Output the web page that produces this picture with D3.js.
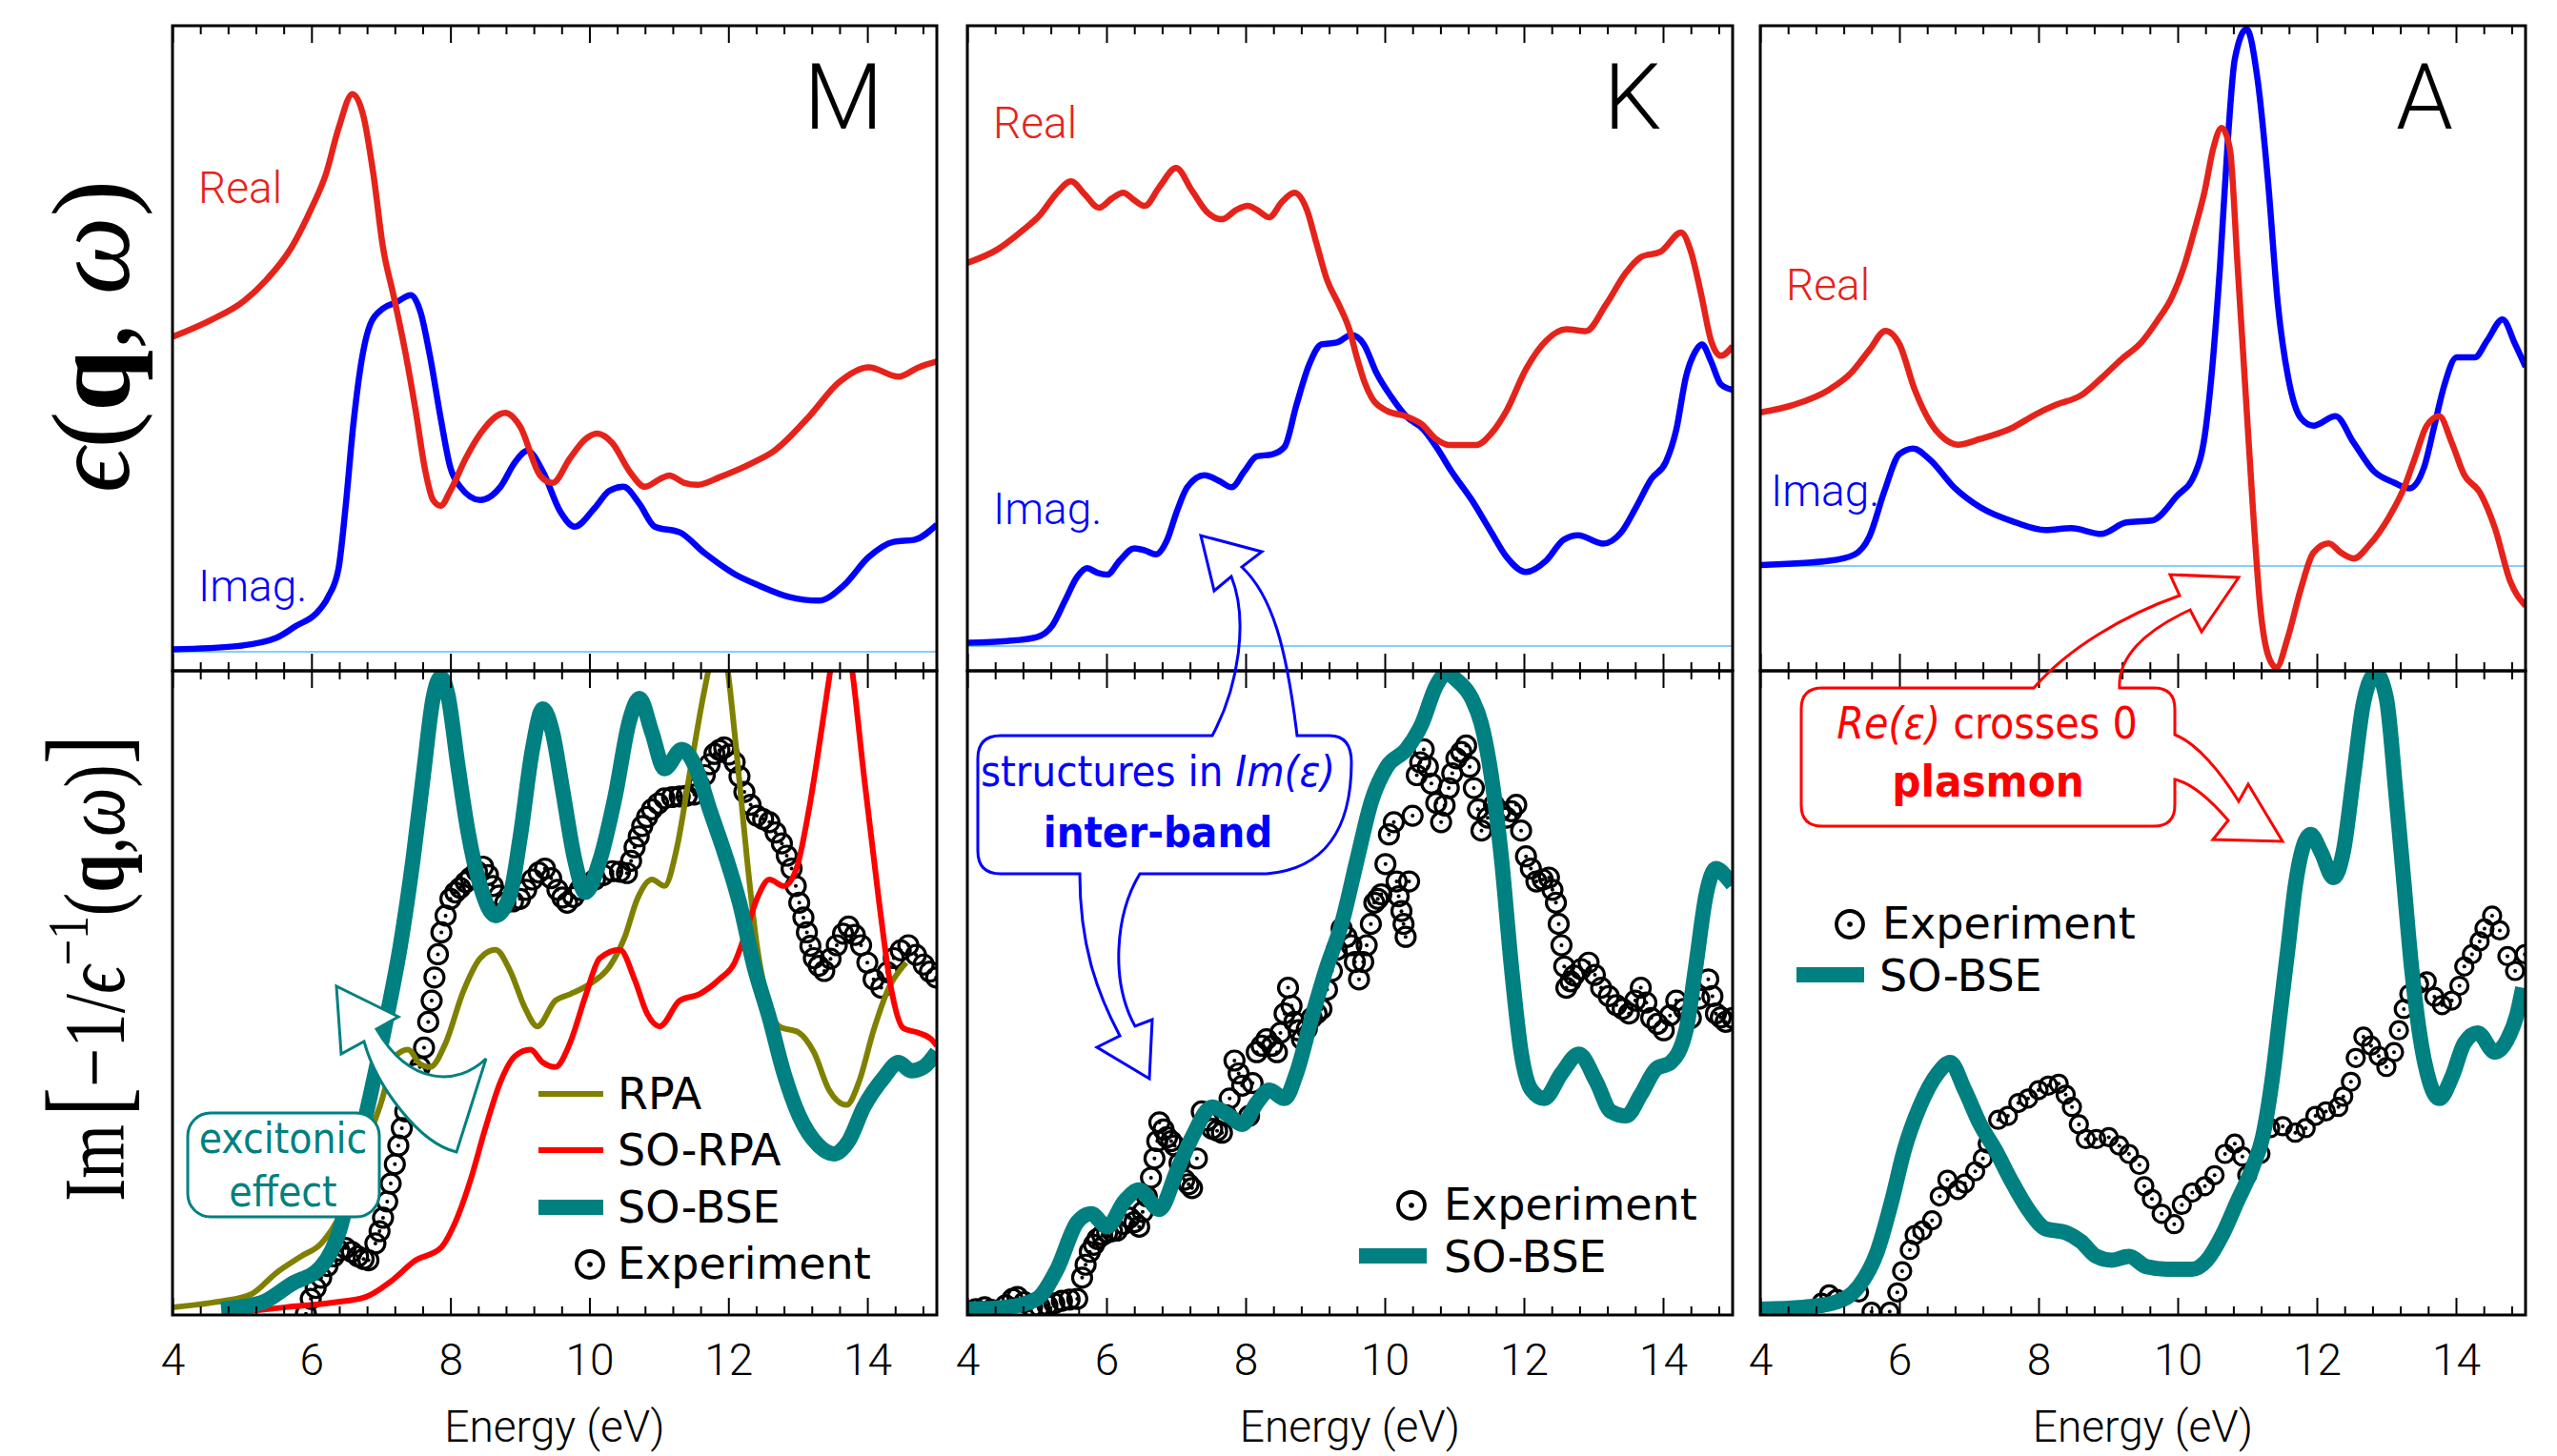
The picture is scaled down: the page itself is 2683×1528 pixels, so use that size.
<!DOCTYPE html>
<html>
<head>
<meta charset="utf-8">
<script src="https://cdn.jsdelivr.net/npm/d3@7.9.0/dist/d3.min.js"></script>
<style>
  body { margin: 0; background: #fff; }
  .tick text { font-family: Roboto, "Liberation Sans", sans-serif; font-weight: 300; }
</style>
</head>
<body>
<svg id="chart" width="2683" height="1528"></svg>
<script>
const energyTicks = [4, 6, 8, 10, 12, 14];

// ---- upper panels: dielectric function, [energy, value]
const M_real = [[4.0,16.6],[4.56,17.5],[5.03,18.5],[5.35,19.6],[5.71,21.3],[5.99,23.3],[6.21,25.2],[6.39,27.6],[6.59,29.4],[6.75,28.2],[6.89,25.2],[7.03,21.3],[7.18,18.8],[7.35,15.8],[7.5,12.7],[7.64,9.5],[7.75,8.0],[7.86,7.7],[8.0,8.5],[8.22,10.2],[8.43,11.5],[8.79,12.6],[9.0,11.9],[9.29,9.3],[9.47,8.9],[9.72,10.2],[9.94,11.2],[10.11,11.5],[10.33,11.0],[10.58,9.5],[10.8,8.7],[11.01,9.1],[11.15,9.3],[11.37,8.9],[11.55,8.8],[11.87,9.2],[12.37,10.0],[12.66,10.6],[13.16,12.4],[13.59,14.2],[14.02,15.0],[14.45,14.5],[14.74,15.0],[15.0,15.3]];
const M_imag = [[4.0,0.13],[4.92,0.3],[5.49,0.73],[5.78,1.37],[6.06,2.0],[6.24,2.9],[6.39,4.4],[6.49,7.6],[6.6,11.9],[6.71,15.1],[6.85,17.3],[7.03,18.1],[7.21,18.4],[7.43,18.8],[7.57,17.9],[7.71,15.5],[7.86,12.3],[8.0,9.7],[8.14,8.7],[8.43,8.0],[8.72,8.7],[8.93,10.0],[9.11,10.6],[9.33,9.5],[9.58,7.4],[9.79,6.6],[10.08,7.6],[10.29,8.5],[10.49,8.7],[10.72,7.8],[10.94,6.6],[11.3,6.3],[11.66,5.2],[12.09,4.1],[12.44,3.5],[12.87,2.9],[13.3,2.7],[13.66,3.5],[14.02,5.0],[14.38,5.8],[14.67,5.9],[15.0,6.7]];

const K_real = [[4.0,20.2],[4.43,20.9],[4.79,21.9],[5.04,22.7],[5.29,23.9],[5.49,24.5],[5.69,23.8],[5.89,23.1],[6.08,23.6],[6.24,23.9],[6.4,23.5],[6.55,23.2],[6.76,24.2],[7.0,25.2],[7.23,24.0],[7.44,22.9],[7.66,22.5],[7.87,23.0],[8.03,23.2],[8.16,23.0],[8.34,22.6],[8.52,23.4],[8.7,23.9],[8.88,23.0],[9.02,21.2],[9.17,19.3],[9.34,18.0],[9.49,16.7],[9.6,15.2],[9.71,13.9],[9.81,13.1],[10.03,12.4],[10.31,12.1],[10.53,11.7],[10.74,10.9],[10.92,10.6],[11.32,10.6],[11.53,11.2],[11.75,12.4],[12.03,14.6],[12.32,16.1],[12.61,16.7],[12.89,16.6],[13.18,18.0],[13.47,19.7],[13.68,20.5],[13.97,20.8],[14.26,21.8],[14.4,20.8],[14.55,18.5],[14.69,16.1],[14.83,15.3],[15.0,15.8]];
const K_imag = [[4.0,0.17],[4.57,0.26],[5.0,0.47],[5.22,1.07],[5.4,2.36],[5.58,3.65],[5.72,4.1],[5.87,3.86],[6.01,3.76],[6.19,4.5],[6.4,5.15],[6.55,5.04],[6.71,4.83],[6.87,5.58],[7.01,7.08],[7.16,8.37],[7.41,9.0],[7.62,8.7],[7.8,8.37],[7.98,9.2],[8.16,10.0],[8.38,10.1],[8.56,10.5],[8.73,12.7],[8.91,14.8],[9.09,15.9],[9.31,16.0],[9.52,16.4],[9.7,15.9],[9.88,14.4],[10.1,13.1],[10.31,12.1],[10.56,11.4],[10.74,10.5],[10.96,9.2],[11.25,7.7],[11.53,6.0],[11.75,4.7],[12.03,3.9],[12.32,4.5],[12.57,5.6],[12.78,5.84],[13.14,5.4],[13.4,6.0],[13.61,7.3],[13.83,8.8],[14.04,9.7],[14.19,11.4],[14.33,14.2],[14.46,15.5],[14.56,15.9],[14.69,15.0],[14.83,13.8],[15.0,13.5]];

const A_real = [[4.0,8.1],[4.48,8.5],[4.99,9.3],[5.31,10.2],[5.57,11.4],[5.8,12.4],[6.0,11.7],[6.22,9.3],[6.44,7.6],[6.65,6.7],[6.84,6.4],[7.16,6.7],[7.6,7.25],[7.96,8.0],[8.25,8.5],[8.61,9.0],[8.9,9.9],[9.19,10.9],[9.48,11.8],[9.7,12.9],[9.92,14.2],[10.1,15.9],[10.24,17.7],[10.39,19.8],[10.51,22.0],[10.63,23.1],[10.75,22.0],[10.86,15.9],[10.97,9.5],[11.08,3.1],[11.19,-2.3],[11.3,-4.7],[11.42,-5.35],[11.58,-3.8],[11.77,-1.2],[11.95,0.7],[12.17,1.2],[12.35,0.7],[12.53,0.4],[12.75,1.1],[13.04,2.6],[13.25,4.1],[13.4,5.6],[13.58,7.4],[13.76,7.9],[13.94,6.5],[14.12,4.8],[14.34,3.9],[14.56,2.0],[14.78,-0.8],[15.0,-2.1]];
const A_imag = [[4.0,0.06],[4.99,0.28],[5.35,0.6],[5.57,1.57],[5.78,3.9],[6.0,5.9],[6.2,6.2],[6.44,5.6],[6.8,4.1],[7.16,3.1],[7.67,2.3],[8.1,1.9],[8.47,2.0],[8.9,1.7],[9.26,2.3],[9.63,2.4],[9.99,3.7],[10.24,4.8],[10.39,6.9],[10.5,10.6],[10.61,15.9],[10.72,22.4],[10.82,26.7],[10.99,28.3],[11.15,25.6],[11.3,20.2],[11.44,13.8],[11.59,9.9],[11.77,7.8],[11.95,7.4],[12.27,7.9],[12.53,6.5],[12.82,5.0],[13.11,4.4],[13.33,4.1],[13.54,5.2],[13.69,7.4],[13.83,9.5],[14.01,11.0],[14.27,11.0],[14.45,11.9],[14.67,13.0],[14.85,11.7],[15.0,10.5]];

// ---- lower panels: loss function (arb. units 0..100)
const M_rpa = [[4.0,1.2],[4.56,1.9],[5.13,3.2],[5.49,6.5],[5.85,9.1],[6.14,11.1],[6.42,15.7],[6.71,24.3],[7.0,32.9],[7.21,40.2],[7.39,41.2],[7.57,38.9],[7.71,38.5],[7.93,42.2],[8.18,50.1],[8.43,55.4],[8.65,56.7],[8.86,53.4],[9.08,47.5],[9.25,44.8],[9.51,48.8],[9.72,49.8],[10.01,51.4],[10.29,54.1],[10.51,58.7],[10.69,64.6],[10.9,67.6],[11.08,66.6],[11.26,72.6],[11.44,83.8],[11.62,95.0],[11.73,101],[11.86,108],[11.98,101],[12.12,87.1],[12.27,70.6],[12.41,57.4],[12.55,49.4],[12.73,44.8],[13.02,43.8],[13.23,40.8],[13.45,34.9],[13.7,32.6],[13.88,36.2],[14.09,44.2],[14.31,50.8],[14.56,54.7]];
const M_sorpa = [[4.75,0.2],[5.63,1.2],[6.28,1.9],[6.78,2.8],[7.14,5.2],[7.5,8.5],[7.86,10.4],[8.07,14.4],[8.29,21.0],[8.5,28.9],[8.72,36.2],[8.93,40.2],[9.15,41.2],[9.33,39.2],[9.51,38.5],[9.72,42.2],[9.94,49.4],[10.15,55.4],[10.44,56.7],[10.65,52.1],[10.83,46.8],[11.01,44.8],[11.3,48.8],[11.58,49.8],[11.87,52.1],[12.09,54.7],[12.23,58.7],[12.41,64.6],[12.59,67.6],[12.8,66.6],[12.98,69.3],[13.16,78.5],[13.38,93.7],[13.48,101],[13.62,110],[13.77,101],[13.95,83.8],[14.17,64.0],[14.34,50.8],[14.52,44.5],[14.74,43.8],[14.92,42.8],[15.0,41.8]];
const M_bse = [[4.7,0.9],[5.28,1.9],[5.71,4.8],[6.14,7.5],[6.42,13.7],[6.64,24.3],[6.85,34.2],[7.07,45.5],[7.28,57.4],[7.46,70.6],[7.61,83.8],[7.75,95.7],[7.86,99.0],[7.96,96.4],[8.11,85.1],[8.25,75.2],[8.43,66.6],[8.65,62.0],[8.86,65.3],[9.0,73.9],[9.18,87.8],[9.33,94.1],[9.47,90.4],[9.61,81.8],[9.79,70.6],[9.94,65.6],[10.15,70.6],[10.37,80.5],[10.58,92.4],[10.72,95.7],[10.9,90.4],[11.08,84.8],[11.33,87.8],[11.55,84.5],[11.73,78.5],[11.94,71.9],[12.16,64.0],[12.37,54.1],[12.59,46.1],[12.8,37.5],[13.02,30.9],[13.3,26.3],[13.52,25.0],[13.73,27.0],[13.95,32.3],[14.24,36.9],[14.45,39.2],[14.63,37.9],[14.81,38.5],[15.0,40.8]];
const M_exp = [[5.92,0.2],[5.99,2.5],[6.06,4.2],[6.14,5.8],[6.23,7.6],[6.32,9.1],[6.4,10.0],[6.49,10.4],[6.58,9.8],[6.67,9.1],[6.75,8.7],[6.82,8.5],[6.92,11.1],[6.98,13.0],[7.03,15.1],[7.09,17.6],[7.14,20.4],[7.2,23.4],[7.25,26.3],[7.3,29.0],[7.35,31.6],[7.41,34.0],[7.46,36.2],[7.51,37.5],[7.56,38.5],[7.62,41.5],[7.68,45.5],[7.73,48.8],[7.77,52.4],[7.82,56.0],[7.87,59.4],[7.93,62.0],[8.0,64.6],[8.07,65.6],[8.14,66.3],[8.22,67.2],[8.29,67.9],[8.38,68.9],[8.47,69.6],[8.54,68.3],[8.61,66.6],[8.7,65.1],[8.79,64.0],[8.9,64.2],[9.0,64.6],[9.09,66.0],[9.18,67.6],[9.27,68.7],[9.36,69.3],[9.45,67.8],[9.54,66.0],[9.61,64.8],[9.68,64.0],[9.77,64.9],[9.86,66.0],[9.97,66.9],[10.08,67.6],[10.2,68.3],[10.33,68.9],[10.44,68.8],[10.54,68.6],[10.6,70.5],[10.65,72.6],[10.71,74.3],[10.76,75.9],[10.83,77.3],[10.9,78.5],[10.99,79.4],[11.08,80.2],[11.19,80.4],[11.3,80.5],[11.4,80.6],[11.51,80.8],[11.58,82.3],[11.66,83.8],[11.73,85.5],[11.8,87.1],[11.87,87.7],[11.94,88.1],[12.01,87.0],[12.09,85.8],[12.16,83.6],[12.23,81.2],[12.32,79.2],[12.41,77.5],[12.5,77.0],[12.59,76.5],[12.68,74.9],[12.77,73.2],[12.84,71.3],[12.91,69.3],[12.97,66.6],[13.02,64.0],[13.08,61.7],[13.13,59.4],[13.18,57.3],[13.23,55.4],[13.3,54.2],[13.38,53.4],[13.47,55.3],[13.56,57.4],[13.65,59.2],[13.73,60.3],[13.82,59.0],[13.91,57.4],[14.0,54.7],[14.09,52.1],[14.2,50.8],[14.29,53.2],[14.38,55.4],[14.48,56.6],[14.59,57.4],[14.7,55.9],[14.81,54.4],[14.9,53.3],[14.99,52.4]];

const K_bse = [[4.0,0.9],[4.57,1.2],[5.0,2.5],[5.29,7.1],[5.58,14.4],[5.78,15.7],[6.01,13.7],[6.26,17.7],[6.47,19.4],[6.76,16.4],[7.01,22.3],[7.23,27.6],[7.52,32.3],[7.77,30.9],[7.95,29.6],[8.16,32.9],[8.34,34.9],[8.56,33.6],[8.73,37.5],[8.95,46.1],[9.17,54.1],[9.38,60.7],[9.6,70.6],[9.81,79.8],[10.03,85.1],[10.31,87.8],[10.53,91.7],[10.74,97.7],[10.89,99.6],[11.03,98.6],[11.25,95.7],[11.39,91.7],[11.53,83.8],[11.68,70.6],[11.82,54.1],[11.96,40.8],[12.11,34.9],[12.29,33.6],[12.54,37.5],[12.79,40.5],[13.04,36.2],[13.25,31.6],[13.47,30.9],[13.68,34.2],[13.9,38.2],[14.11,39.2],[14.33,44.2],[14.47,54.1],[14.62,65.3],[14.76,69.3],[14.94,67.6],[15.0,66.8]];
const K_exp = [[4.0,0.5],[4.12,0.9],[4.25,1.2],[4.34,0.8],[4.43,0.5],[4.55,1.5],[4.65,2.5],[4.72,2.8],[4.82,2.0],[4.93,1.2],[5.04,1.3],[5.15,1.5],[5.25,1.8],[5.36,2.2],[5.47,2.4],[5.58,2.5],[5.65,5.8],[5.7,7.8],[5.76,9.8],[5.82,10.9],[5.87,11.8],[5.94,12.4],[6.01,12.8],[6.08,13.0],[6.15,13.1],[6.24,14.1],[6.33,15.1],[6.4,14.4],[6.47,13.7],[6.52,16.0],[6.58,18.4],[6.64,21.3],[6.69,24.3],[6.73,27.0],[6.76,29.9],[6.82,28.8],[6.87,27.6],[6.93,27.0],[6.98,26.3],[7.05,23.6],[7.12,21.0],[7.18,20.3],[7.23,19.7],[7.3,24.3],[7.37,31.6],[7.45,30.2],[7.52,28.9],[7.59,28.6],[7.66,28.3],[7.72,31.0],[7.77,33.6],[7.84,39.5],[7.9,37.5],[7.95,35.6],[8.05,30.9],[8.1,36.0],[8.16,40.8],[8.23,41.8],[8.3,42.8],[8.38,41.8],[8.45,40.8],[8.5,43.8],[8.56,46.8],[8.61,50.8],[8.66,48.0],[8.7,45.5],[8.76,44.2],[8.81,42.8],[8.88,44.4],[8.95,46.1],[9.02,46.8],[9.09,47.5],[9.17,50.5],[9.24,53.4],[9.31,56.7],[9.38,60.0],[9.45,58.7],[9.52,57.4],[9.57,54.8],[9.63,52.1],[9.69,54.8],[9.74,57.4],[9.8,60.7],[9.85,64.0],[9.9,64.6],[9.95,65.3],[10.01,70.0],[10.06,74.6],[10.13,76.5],[10.17,67.3],[10.2,65.0],[10.24,62.7],[10.27,60.7],[10.3,58.7],[10.35,67.3],[10.4,77.5],[10.46,83.8],[10.51,85.8],[10.56,87.8],[10.62,85.1],[10.67,82.5],[10.74,79.5],[10.81,76.5],[10.86,79.1],[10.92,81.8],[10.97,84.1],[11.03,86.4],[11.1,87.4],[11.17,88.4],[11.22,85.1],[11.28,81.8],[11.34,78.5],[11.39,75.2],[11.48,77.2],[11.57,79.2],[11.66,78.2],[11.75,77.2],[11.82,78.2],[11.89,79.2],[11.96,75.2],[12.03,71.2],[12.1,69.3],[12.18,67.3],[12.27,67.6],[12.36,67.9],[12.41,66.0],[12.46,64.0],[12.5,60.7],[12.54,57.4],[12.58,54.1],[12.61,50.8],[12.67,51.8],[12.72,52.7],[12.82,53.7],[12.93,54.7],[13.02,52.8],[13.11,50.8],[13.22,49.5],[13.33,48.1],[13.42,47.5],[13.51,46.8],[13.6,48.8],[13.68,50.8],[13.76,48.5],[13.83,46.1],[13.92,45.2],[14.01,44.2],[14.1,46.5],[14.19,48.8],[14.3,47.5],[14.4,46.1],[14.52,49.1],[14.65,52.1],[14.71,49.5],[14.76,46.8],[14.83,46.2],[14.9,45.5],[15.0,46.1]];

const A_bse = [[4.0,0.9],[4.62,1.2],[5.06,1.9],[5.42,4.5],[5.68,9.8],[5.89,17.7],[6.07,25.6],[6.29,32.3],[6.55,37.5],[6.73,39.2],[6.94,34.9],[7.16,29.6],[7.38,25.6],[7.6,21.0],[7.85,16.4],[8.1,13.4],[8.39,12.8],[8.61,11.4],[8.83,9.1],[9.05,8.5],[9.3,9.1],[9.55,7.5],[9.84,7.1],[10.21,7.1],[10.42,8.5],[10.64,12.4],[10.86,17.7],[11.08,23.0],[11.22,27.6],[11.37,37.5],[11.48,47.5],[11.59,57.4],[11.69,66.6],[11.8,72.6],[11.91,74.6],[12.06,71.9],[12.24,67.9],[12.38,71.9],[12.53,83.8],[12.67,95.0],[12.85,99.6],[13.0,95.7],[13.14,80.5],[13.25,67.3],[13.36,54.1],[13.47,44.2],[13.62,36.2],[13.76,33.6],[13.94,36.9],[14.12,42.2],[14.31,43.8],[14.56,40.8],[14.74,42.8],[14.88,46.8],[14.96,50.8]];
const A_exp = [[4.88,1.9],[4.99,3.2],[5.1,2.5],[5.42,3.5],[5.6,0.5],[5.86,0.5],[5.97,3.5],[6.04,6.8],[6.15,10.1],[6.22,12.4],[6.33,13.1],[6.47,14.7],[6.58,18.4],[6.69,21.0],[6.84,19.4],[6.94,20.4],[7.09,22.3],[7.2,24.3],[7.27,26.6],[7.42,30.3],[7.56,30.9],[7.71,32.9],[7.85,33.6],[8.0,34.9],[8.14,35.6],[8.29,35.9],[8.39,34.2],[8.48,32.3],[8.58,29.6],[8.68,27.3],[8.83,27.3],[9.01,27.6],[9.16,26.3],[9.3,25.0],[9.45,23.3],[9.52,20.0],[9.63,18.0],[9.77,15.7],[9.95,14.1],[10.06,17.1],[10.21,19.0],[10.39,20.0],[10.53,21.7],[10.68,25.0],[10.82,26.6],[10.93,24.6],[11.0,21.7],[11.19,25.0],[11.33,29.0],[11.51,29.3],[11.69,28.3],[11.84,29.0],[11.98,30.9],[12.13,31.6],[12.31,32.3],[12.38,33.9],[12.49,36.2],[12.56,39.9],[12.67,43.2],[12.78,41.8],[12.89,40.2],[13.0,38.5],[13.11,40.8],[13.18,44.2],[13.25,47.5],[13.33,49.8],[13.47,51.4],[13.58,51.8],[13.69,49.4],[13.8,48.1],[13.94,48.8],[14.05,51.1],[14.12,54.1],[14.23,56.0],[14.34,58.0],[14.41,60.0],[14.52,62.0],[14.63,59.7],[14.74,55.7],[14.85,53.4],[14.99,56.0]];

// ---- layout
const W = 2683, H = 1528;
const upTop = 27, mid = 704, lowBottom = 1380;
const C = { real: '#e6231a', imag: '#0000ff', zero: '#87cefa', rpa: '#808000', sorpa: '#ff0000', bse: '#008080' };
const sans = 'Roboto, "Liberation Sans", sans-serif';
const dv = '"DejaVu Sans", sans-serif';
const dvc = '"DejaVu Sans Condensed", "DejaVu Sans", sans-serif';

const svg = d3.select('#chart');
svg.append('rect').attr('width', W).attr('height', H).attr('fill', '#fff');
const defs = svg.append('defs');

const minorTicks = d3.range(4, 15, 0.4).filter(v => Math.abs(v / 2 - Math.round(v / 2)) > 0.02);

function clip(id, x0, y0, w, h) {
  defs.append('clipPath').attr('id', id).append('rect')
    .attr('x', x0).attr('y', y0).attr('width', w).attr('height', h);
  return `url(#${id})`;
}

function tickRow(x, y, axisFn, size, values, labels) {
  const g = svg.append('g').attr('transform', `translate(0,${y})`)
    .call(axisFn(x).tickValues(values).tickSize(size).tickPadding(30)
      .tickFormat(labels ? d3.format('d') : ''));
  g.select('.domain').remove();
  g.selectAll('.tick line').attr('stroke', '#000').attr('stroke-width', 2);
  g.selectAll('.tick text').attr('font-size', 46).attr('fill', '#000');
}

function expMarks(g, data, x, y, r) {
  const pts = g.selectAll(null).data(data).enter().append('g')
    .attr('transform', d => `translate(${x(d[0])},${y(d[1])})`);
  pts.append('circle').attr('r', r).attr('fill', 'none').attr('stroke', '#000').attr('stroke-width', 3.2);
  pts.append('circle').attr('r', 2).attr('fill', '#000');
}

function drawPanel(p) {
  const x = d3.scaleLinear().domain([4, 15]).range([p.left, p.right]);
  const yu = d3.scaleLinear().domain(p.upDomain).range([mid, upTop]);
  const yl = d3.scaleLinear().domain([0, 100]).range([lowBottom, mid]);
  const w = p.right - p.left;

  const up = svg.append('g').attr('clip-path', clip('cu' + p.name, p.left, upTop, w, mid - upTop));
  up.append('line').attr('x1', p.left).attr('x2', p.right).attr('y1', yu(0)).attr('y2', yu(0))
    .attr('stroke', C.zero).attr('stroke-width', 2);
  const lineU = d3.line().x(d => x(d[0])).y(d => yu(d[1])).curve(d3.curveMonotoneX);
  up.append('path').datum(p.imag).attr('d', lineU).attr('fill', 'none').attr('stroke', C.imag).attr('stroke-width', 6.5);
  up.append('path').datum(p.real).attr('d', lineU).attr('fill', 'none').attr('stroke', C.real).attr('stroke-width', 6.5);

  const low = svg.append('g').attr('clip-path', clip('cl' + p.name, p.left, mid, w, lowBottom - mid));
  const lineL = d3.line().x(d => x(d[0])).y(d => yl(d[1])).curve(d3.curveMonotoneX);
  expMarks(low, p.exp, x, yl, p.expR);
  p.lines.forEach(s => {
    low.append('path').datum(s.data).attr('d', lineL).attr('fill', 'none')
      .attr('stroke', s.color).attr('stroke-width', s.width).attr('stroke-linejoin', 'round');
  });

  // ticks
  tickRow(x, upTop, d3.axisTop, -18, energyTicks, false);
  tickRow(x, upTop, d3.axisTop, -9, minorTicks, false);
  tickRow(x, mid, d3.axisBottom, -18, energyTicks, false);
  tickRow(x, mid, d3.axisBottom, -9, minorTicks, false);
  tickRow(x, mid, d3.axisTop, -18, energyTicks, false);
  tickRow(x, mid, d3.axisTop, -9, minorTicks, false);
  tickRow(x, lowBottom, d3.axisBottom, -18, energyTicks, true);
  tickRow(x, lowBottom, d3.axisBottom, -9, minorTicks, false);

  // frames
  svg.append('rect').attr('x', p.left).attr('y', upTop).attr('width', w).attr('height', mid - upTop)
    .attr('fill', 'none').attr('stroke', '#000').attr('stroke-width', 3);
  svg.append('rect').attr('x', p.left).attr('y', mid).attr('width', w).attr('height', lowBottom - mid)
    .attr('fill', 'none').attr('stroke', '#000').attr('stroke-width', 3);

  // texts
  svg.append('text').attr('x', (p.left + p.right) / 2).attr('y', 1513).attr('text-anchor', 'middle')
    .attr('font-family', sans).attr('font-weight', 300).attr('font-size', 46).text('Energy (eV)');
  svg.append('text').attr('x', p.letterX).attr('y', 135).attr('text-anchor', 'middle')
    .attr('font-family', sans).attr('font-weight', 300).attr('font-size', 96).text(p.name);
  svg.append('text').attr('x', p.realPos[0]).attr('y', p.realPos[1]).attr('fill', C.real)
    .attr('font-family', sans).attr('font-weight', 300).attr('font-size', 46).text('Real');
  svg.append('text').attr('x', p.imagPos[0]).attr('y', p.imagPos[1]).attr('fill', C.imag)
    .attr('font-family', sans).attr('font-weight', 300).attr('font-size', 46).text('Imag.');
}

const bseLine = d => ({ data: d, color: C.bse, width: 16 });

drawPanel({ name: 'M', left: 181, right: 983, upDomain: [-1, 33], real: M_real, imag: M_imag,
  exp: M_exp, expR: 10, letterX: 885, realPos: [208, 213], imagPos: [208, 631],
  lines: [{ data: M_rpa, color: C.rpa, width: 6 }, { data: M_sorpa, color: C.sorpa, width: 6 }, bseLine(M_bse)] });
drawPanel({ name: 'K', left: 1015, right: 1818, upDomain: [-1.31, 32.7], real: K_real, imag: K_imag,
  exp: K_exp, expR: 10, letterX: 1713, realPos: [1042, 145], imagPos: [1042, 550],
  lines: [bseLine(K_bse)] });
drawPanel({ name: 'A', left: 1847, right: 2650, upDomain: [-5.52, 28.48], real: A_real, imag: A_imag,
  exp: A_exp, expR: 9, letterX: 2544, realPos: [1874, 315], imagPos: [1858, 531],
  lines: [bseLine(A_bse)] });

// ---- legends
function legLine(x1, x2, y, color, w) {
  svg.append('line').attr('x1', x1).attr('x2', x2).attr('y1', y).attr('y2', y).attr('stroke', color).attr('stroke-width', w);
}
function legCircle(cx, cy) {
  svg.append('circle').attr('cx', cx).attr('cy', cy).attr('r', 14).attr('fill', 'none').attr('stroke', '#000').attr('stroke-width', 3.8);
  svg.append('circle').attr('cx', cx).attr('cy', cy).attr('r', 2.8).attr('fill', '#000');
}
function legText(x, y, t) {
  svg.append('text').attr('x', x).attr('y', y).attr('font-family', dv).attr('font-size', 46).text(t);
}
legLine(565, 633, 1148, C.rpa, 6); legText(648, 1164, 'RPA');
legLine(565, 633, 1207, C.sorpa, 6); legText(648, 1223, 'SO-RPA');
legLine(565, 633, 1267, C.bse, 16); legText(648, 1283, 'SO-BSE');
legCircle(619, 1327); legText(648, 1342, 'Experiment');

legCircle(1481, 1265); legText(1515, 1280, 'Experiment');
legLine(1426, 1497, 1318, C.bse, 16); legText(1515, 1335, 'SO-BSE');

legCircle(1941, 970); legText(1975, 985, 'Experiment');
legLine(1885, 1956, 1023, C.bse, 16); legText(1972, 1040, 'SO-BSE');

// ---- annotations
svg.append('path')
  .attr('d', 'M353,1035 L358,1106 L382,1093 C395,1140 440,1200 479,1209 L510,1111 C480,1140 430,1140 395,1080 L418,1067 Z')
  .attr('fill', '#fff').attr('stroke', C.bse).attr('stroke-width', 3);
svg.append('rect').attr('x', 197).attr('y', 1168).attr('width', 201).attr('height', 109).attr('rx', 24)
  .attr('fill', '#fff').attr('stroke', C.bse).attr('stroke-width', 3);
svg.append('text').attr('x', 297).attr('y', 1210).attr('text-anchor', 'middle').attr('fill', C.bse)
  .attr('font-family', dvc).attr('font-size', 44).text('excitonic');
svg.append('text').attr('x', 297).attr('y', 1266).attr('text-anchor', 'middle').attr('fill', C.bse)
  .attr('font-family', dvc).attr('font-size', 44).text('effect');

svg.append('path')
  .attr('d', 'M1272,772 C1300,720 1310,650 1292,605 L1274,620 L1260,562 L1324,579 L1303,595 C1335,625 1350,680 1361,772 ' +
    'L1395,772 Q1418,772 1418,800 C1418,870 1390,912 1329,917 L1196,917 C1170,960 1165,1030 1191,1077 ' +
    'L1209,1070 L1206,1132 L1151,1099 L1175,1087 C1150,1040 1133,990 1133,917 L1050,917 Q1026,917 1026,893 ' +
    'L1026,796 Q1026,772 1050,772 Z')
  .attr('fill', 'none').attr('stroke', C.imag).attr('stroke-width', 3);
const t1 = svg.append('text').attr('x', 1215).attr('y', 825).attr('text-anchor', 'middle').attr('fill', C.imag)
  .attr('font-family', dvc).attr('font-size', 45);
t1.append('tspan').text('structures in ');
t1.append('tspan').attr('font-style', 'italic').text('Im(ε)');
svg.append('text').attr('x', 1215).attr('y', 889).attr('text-anchor', 'middle').attr('fill', C.imag)
  .attr('font-family', dvc).attr('font-weight', 'bold').attr('font-size', 45).text('inter-band');

svg.append('path')
  .attr('d', 'M2134,722 C2170,680 2230,645 2287,625 L2277,603 L2349,606 L2310,663 L2298,640 C2250,662 2222,690 2224,722 ' +
    'L2260,722 Q2282,722 2282,744 L2282,771 C2305,780 2330,810 2349,841 L2359,823 L2395,883 L2322,881 L2338,861 ' +
    'C2320,840 2300,822 2282,818 L2282,845 Q2282,867 2260,867 L1912,867 Q1890,867 1890,845 L1890,744 Q1890,722 1912,722 Z')
  .attr('fill', 'none').attr('stroke', '#ff0000').attr('stroke-width', 3);
const t2 = svg.append('text').attr('x', 2085).attr('y', 775).attr('text-anchor', 'middle').attr('fill', '#ff0000')
  .attr('font-family', dvc).attr('font-size', 46);
t2.append('tspan').attr('font-style', 'italic').text('Re(ε)');
t2.append('tspan').text(' crosses 0');
svg.append('text').attr('x', 2086).attr('y', 836).attr('text-anchor', 'middle').attr('fill', '#ff0000')
  .attr('font-family', dvc).attr('font-weight', 'bold').attr('font-size', 47).text('plasmon');

// ---- y-axis labels (rotated)
const serif = '"Liberation Serif", "DejaVu Serif", serif';
const yl1 = svg.append('text').attr('transform', 'translate(135,353) rotate(-90)').attr('text-anchor', 'middle')
  .attr('font-family', serif).attr('font-size', 116);
yl1.append('tspan').attr('font-style', 'italic').text('ϵ');
yl1.append('tspan').text('(');
yl1.append('tspan').attr('font-weight', 'bold').text('q');
yl1.append('tspan').text(', ');
yl1.append('tspan').attr('font-style', 'italic').text('ω');
yl1.append('tspan').text(')');

const yl2 = svg.append('text').attr('transform', 'translate(130,1016) rotate(-90)').attr('text-anchor', 'middle')
  .attr('font-family', serif).attr('font-size', 92).attr('textLength', 490).attr('lengthAdjust', 'spacingAndGlyphs');
yl2.append('tspan').text('Im');
yl2.append('tspan').attr('font-size', 118).attr('dx', 10).text('[');
yl2.append('tspan').text('−1/');
yl2.append('tspan').attr('font-style', 'italic').text('ϵ');
yl2.append('tspan').attr('font-size', 62).attr('dy', -38).text('−1');
yl2.append('tspan').attr('dy', 38).text('(');
yl2.append('tspan').attr('font-weight', 'bold').text('q');
yl2.append('tspan').text(',');
yl2.append('tspan').attr('font-style', 'italic').text('ω');
yl2.append('tspan').text(')');
yl2.append('tspan').attr('font-size', 118).text(']');
</script>
</body>
</html>
